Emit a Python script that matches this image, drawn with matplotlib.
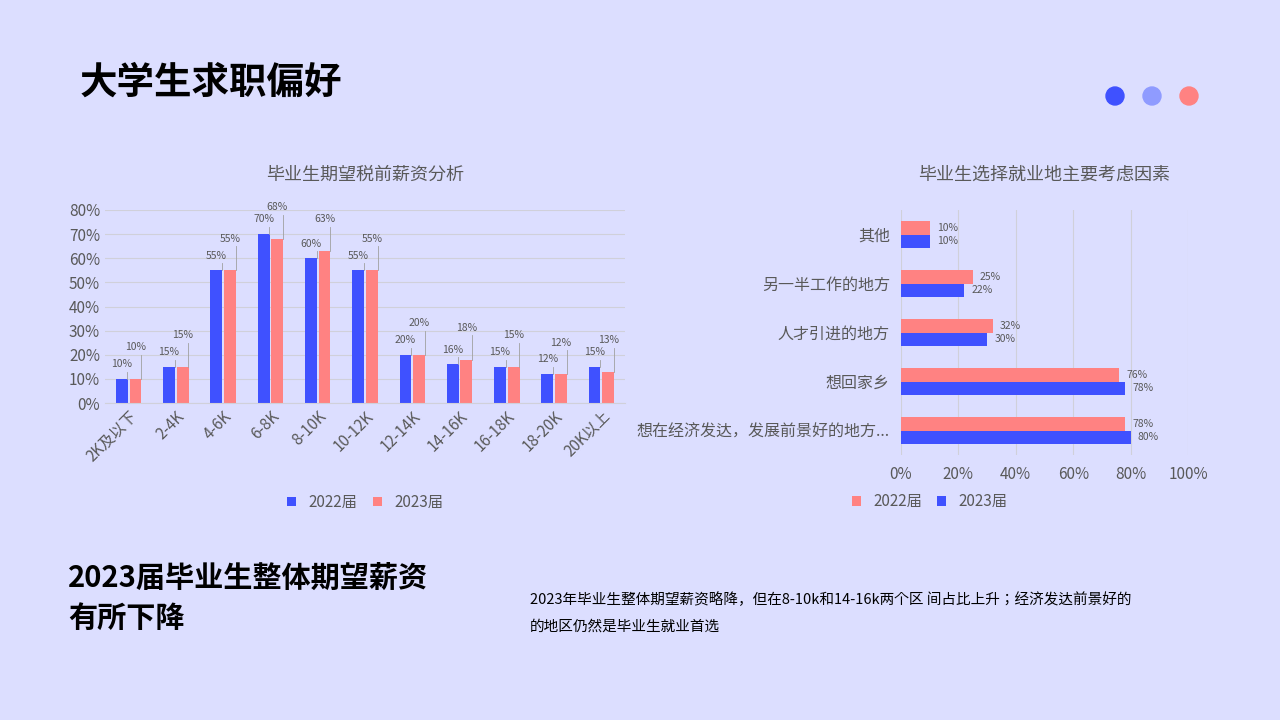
import matplotlib
matplotlib.use("Agg")
import matplotlib.pyplot as plt
import numpy as np
import glob, os
from matplotlib import font_manager
from matplotlib.patches import Ellipse, Circle
from matplotlib.colors import LinearSegmentedColormap

cjk = None
for pat in ["/usr/share/fonts/**/*CJK*", "/usr/local/share/fonts/**/*CJK*", os.path.expanduser("~/.fonts/**/*CJK*")]:
    for f in glob.glob(pat, recursive=True):
        if f.lower().endswith((".ttc", ".otf", ".ttf")):
            try:
                font_manager.fontManager.addfont(f)
            except Exception:
                pass
names = {f.name for f in font_manager.fontManager.ttflist}
fam = [n for n in ["Noto Sans CJK SC", "Noto Sans CJK JP", "Noto Sans CJK TC", "Noto Sans CJK KR"] if n in names]
plt.rcParams["font.family"] = fam + ["DejaVu Sans"]

salary_cats = ["2K及以下", "2-4K", "4-6K", "6-8K", "8-10K", "10-12K", "12-14K", "14-16K", "16-18K", "18-20K", "20K以上"]
salary_2022 = [10, 15, 55, 70, 60, 55, 20, 16, 15, 12, 15]
salary_2023 = [10, 15, 55, 68, 63, 55, 20, 18, 15, 12, 13]

factor_cats = ["想在经济发达，发展前景好的地方...", "想回家乡", "人才引进的地方", "另一半工作的地方", "其他"]
factor_2022 = [78, 76, 32, 25, 10]
factor_2023 = [80, 78, 30, 22, 10]

BLUE = "#3F51FF"
RED = "#FF8282"
BG = "#DCDEFF"
GRID = "#D0D0DA"
TXT = "#595959"

fig = plt.figure(figsize=(12.8, 7.2), dpi=100)
fig.patch.set_facecolor(BLUE)
bg = fig.add_axes([0, 0, 1, 1])
bg.add_patch(Ellipse((600, 380), 1640, 1420, color=BG))
grad = LinearSegmentedColormap.from_list("g", [BLUE, BG])
bg.imshow(np.linspace(0, 1, 256)[None, :], cmap=grad, extent=[38, 760, 121, 115], aspect="auto")
bg.set_xlim(0, 1280); bg.set_ylim(720, 0); bg.axis("off")
bg.text(80, 82, "大学生求职偏好", fontsize=27, fontweight="bold", va="center", color="black")
for x, c in [(1115, BLUE), (1152, "#8F9BFF"), (1189, RED)]:
    bg.add_patch(Circle((x, 96), 9, color=c))
bg.text(68, 598, "2023届毕业生整体期望薪资\n有所下降", fontsize=21, fontweight="bold", va="center", linespacing=1.4)
bg.text(530, 613, "2023年毕业生整体期望薪资略降，但在8-10k和14-16k两个区 间占比上升；经济发达前景好的\n的地区仍然是毕业生就业首选",
        fontsize=10.5, va="center", linespacing=2.2)

# left chart
ax = fig.add_axes([105/1280, 1-403/720, 520/1280, 193/720])
ax.set_facecolor("none")
x = np.arange(len(salary_cats))
w = 0.25
ax.bar(x - w/2 - 0.02, salary_2022, w, color=BLUE, label="2022届")
ax.bar(x + w/2 + 0.02, salary_2023, w, color=RED, label="2023届")
for i in range(len(x)):
    for dx, v, dy in [(-w/2 - 0.02, salary_2022[i], 3), (w/2 + 0.02, salary_2023[i], 10)]:
        ax.plot([x[i] + dx + 0.12, x[i] + dx + 0.12], [v, v + dy], color="#A0A0A0", lw=0.6)
        ax.text(x[i] + dx, v + dy + 1, f"{v}%", fontsize=7.5, color=TXT, ha="center", va="bottom")
ax.set_ylim(0, 80)
ax.set_xlim(-0.5, len(x) - 0.5)
ax.set_yticks(range(0, 81, 10))
ax.set_yticklabels([f"{v}%" for v in range(0, 81, 10)], fontsize=11, color=TXT)
ax.set_xticks(x)
ax.set_xticklabels(salary_cats, rotation=45, ha="right", rotation_mode="anchor", fontsize=11, color=TXT)
ax.grid(axis="y", color=GRID, lw=0.8); ax.set_axisbelow(True)
for s in ax.spines.values(): s.set_visible(False)
ax.spines["bottom"].set_visible(True); ax.spines["bottom"].set_color(GRID)
ax.tick_params(length=0)
ax.set_title("毕业生期望税前薪资分析", fontsize=13, color=TXT, pad=22)
ax.legend(loc="upper center", bbox_to_anchor=(0.5, -0.4), ncol=2, frameon=False, fontsize=11,
          labelcolor=TXT, handlelength=0.6, handleheight=0.6, columnspacing=1)

# right chart
ax2 = fig.add_axes([901/1280, 1-455/720, 287/1280, 245/720])
ax2.set_facecolor("none")
y = np.arange(len(factor_cats))
h = 0.27
ax2.barh(y + h/2, factor_2022, h, color=RED, label="2022届")
ax2.barh(y - h/2, factor_2023, h, color=BLUE, label="2023届")
for i in range(len(y)):
    ax2.text(factor_2022[i] + 2.5, y[i] + h/2, f"{factor_2022[i]}%", fontsize=7.5, color=TXT, va="center")
    ax2.text(factor_2023[i] + 2.5, y[i] - h/2, f"{factor_2023[i]}%", fontsize=7.5, color=TXT, va="center")
ax2.set_xlim(0, 100); ax2.set_ylim(-0.5, len(y) - 0.5)
ax2.set_xticks(range(0, 101, 20))
ax2.set_xticklabels([f"{v}%" for v in range(0, 101, 20)], fontsize=11, color=TXT)
ax2.set_yticks(y); ax2.set_yticklabels(factor_cats, fontsize=11.5, color=TXT)
ax2.grid(axis="x", color=GRID, lw=0.8); ax2.set_axisbelow(True)
for s in ax2.spines.values(): s.set_visible(False)
ax2.tick_params(length=0, pad=8)
ax2.set_title("毕业生选择就业地主要考虑因素", fontsize=13, color=TXT, pad=22)
ax2.legend(loc="upper center", bbox_to_anchor=(0.1, -0.1), ncol=2, frameon=False, fontsize=11,
           labelcolor=TXT, handlelength=0.6, handleheight=0.6, columnspacing=1)

fig.savefig("out.png", dpi=100, facecolor=fig.get_facecolor())
